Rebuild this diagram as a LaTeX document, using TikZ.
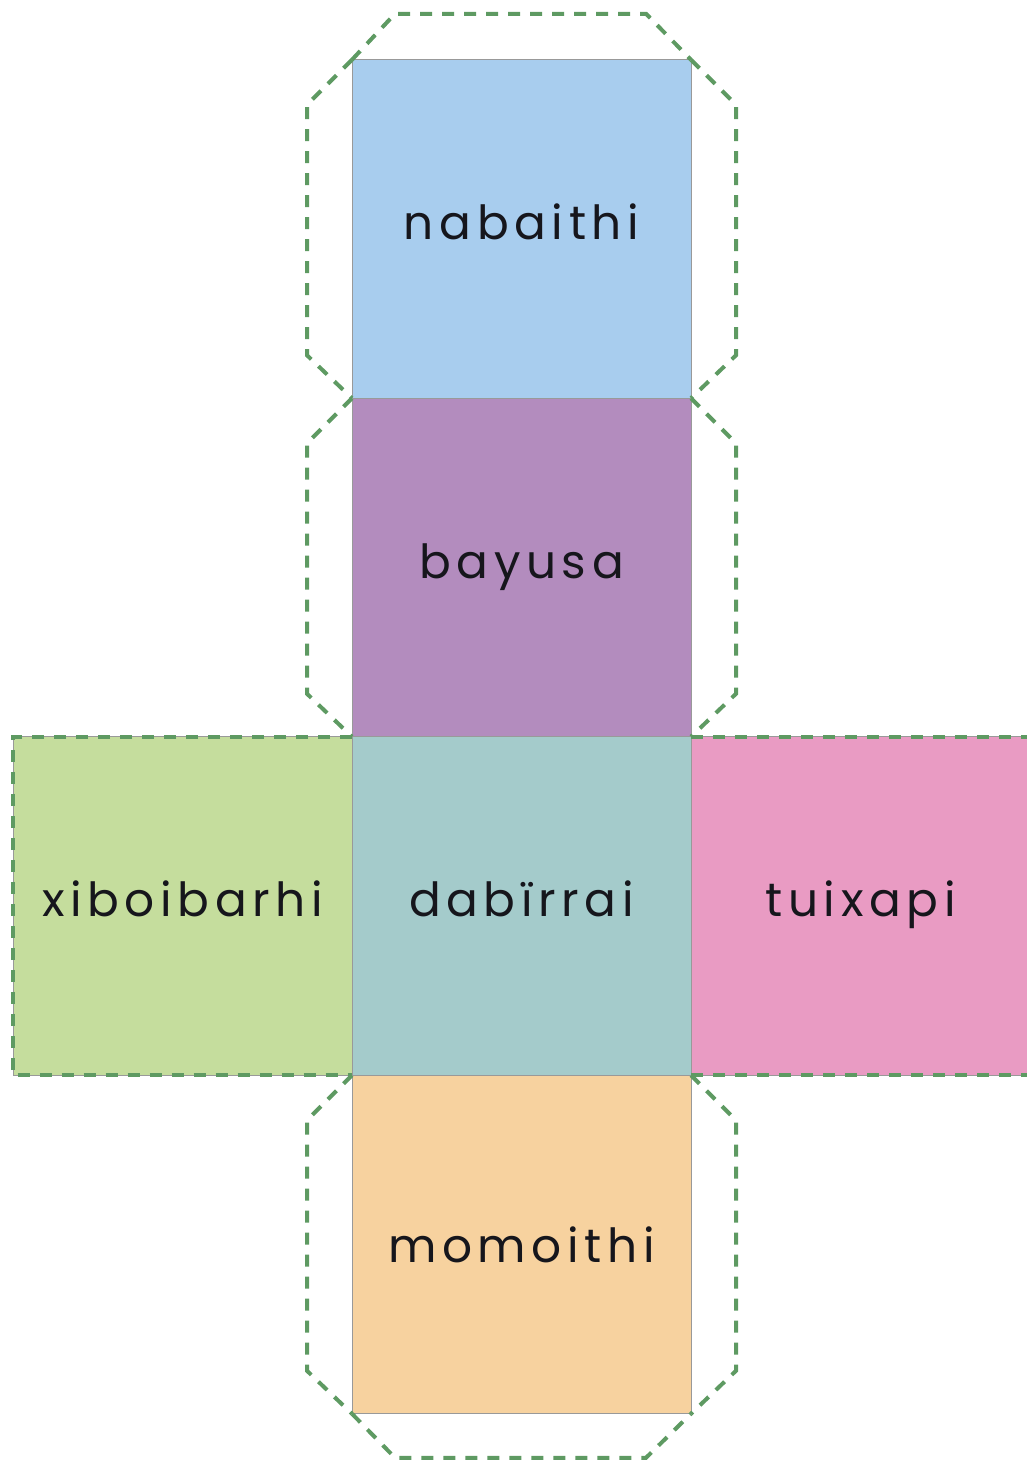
\documentclass[tikz,border=0pt]{standalone}
\usepackage{fontspec}
\setmainfont{Poppins}
\usetikzlibrary{positioning, calc}
\definecolor{skyblue}{HTML}{A8CDEE}
\definecolor{mauve}{HTML}{B38CBE}
\definecolor{seafoam}{HTML}{A4CBCB}
\definecolor{lime}{HTML}{C5DD9D}
\definecolor{rose}{HTML}{E99BC3}
\definecolor{peach}{HTML}{F7D29F}
\definecolor{tabgreen}{HTML}{5E9A62}
\definecolor{labeltext}{HTML}{16161C}

\begin{document}
\begin{tikzpicture}[x=1pt, y=1pt,
    face/.style={rectangle, draw=gray!80, line width=0.8pt, minimum width=339pt, minimum height=338.5pt, inner sep=0pt, outer sep=0pt, text=labeltext, font=\fontsize{47}{52}\selectfont\addfontfeatures{LetterSpace=12}},
    lift/.style={text depth=14pt},
    tab/.style={draw=tabgreen, line width=4pt, dash pattern=on 12pt off 10pt}
]
    \useasboundingbox (0,0) rectangle (1027,-1465);
    \node [face, lift, fill=skyblue] (nabaithi) at (521.5,-229) {nabaithi};
    \node [face, fill=mauve, below=0pt of nabaithi] (bayusa) {bayusa};
    \node [face, lift, fill=seafoam, below=0pt of bayusa] (dabirrai) {dabïrrai};
    \node [face, lift, fill=lime, left=0pt of dabirrai] (xiboibarhi) {xiboibarhi};
    \node [face, lift, fill=rose, right=0pt of dabirrai] (tuixapi) {tuixapi};
    \node [face, fill=peach, below=0pt of dabirrai] (momoithi) {momoithi};

    % glue tabs
    \foreach \f in {nabaithi, bayusa, momoithi} {
        \draw [tab] (\f.north west) -- ++(-45,-45) -- ($(\f.south west)+(-45,43)$) -- (\f.south west);
        \draw [tab] (\f.north east) -- ++(45,-45) -- ($(\f.south east)+(45,43)$) -- (\f.south east);
    }
    \draw [tab] (nabaithi.north west) -- ++(43,46) -- ($(nabaithi.north east)+(-45,46)$) -- (nabaithi.north east);
    \draw [tab] (momoithi.south west) -- ++(43,-44) -- ($(momoithi.south east)+(-45,-44)$) -- (momoithi.south east);
    \draw [tab] (xiboibarhi.north east) -- (xiboibarhi.north west) -- (xiboibarhi.south west) -- (xiboibarhi.south east);
    \draw [tab] (tuixapi.north west) -- (tuixapi.north east);
    \draw [tab] (tuixapi.south west) -- (tuixapi.south east);
\end{tikzpicture}
\end{document}
